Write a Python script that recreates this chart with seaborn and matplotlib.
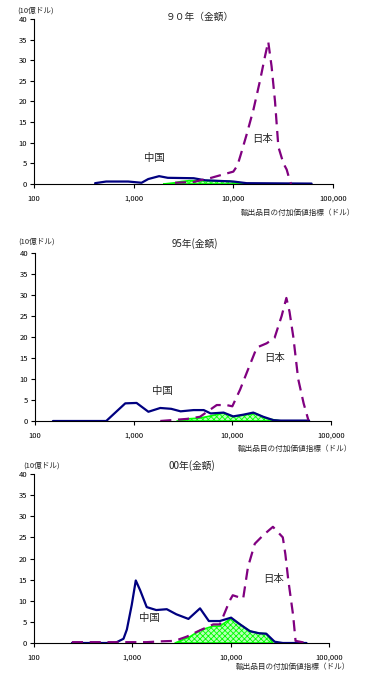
import numpy as np
import pandas as pd
import matplotlib
matplotlib.use("Agg")
import matplotlib.pyplot as plt
import seaborn as sns

# ---- data (x = value-added index in USD, y = 10億ドル) ----
titles = ["９０年（金額）", "95年(金額)", "00年(金額)"]

china90_x = [410, 530, 880, 1200, 1400, 1800, 2200, 4000, 5200, 10000, 13600, 61000]
china90_y = [0.2, 0.6, 0.6, 0.3, 1.2, 1.9, 1.5, 1.4, 0.9, 0.6, 0.2, 0.1]
japan90_x = [2600, 4000, 6000, 7600, 10000, 11000, 12000, 13600, 15900, 18500,
             20800, 22400, 24200, 26200, 28300, 31800, 34300, 36500, 38000]
japan90_y = [0.3, 0.5, 1.5, 2.2, 3.0, 4.5, 7.5, 12, 18, 25,
             31, 34.5, 28.5, 20, 9, 5, 3.5, 1.2, 0]
green90_x = [2000, 2600, 3000, 3600, 6000, 9200, 10000, 14100]
green90_y = [0.0, 0.3, 0.6, 0.8, 0.8, 0.7, 0.5, 0.0]

china95_x = [152, 527, 822, 1070, 1410, 1860, 2400, 2990, 4050, 5130, 6030,
             8150, 10200, 12900, 16300, 20600, 26100, 31000, 60000]
china95_y = [0, 0, 4.2, 4.3, 2.2, 3.1, 2.9, 2.3, 2.6, 2.6, 1.8,
             2.0, 1.1, 1.5, 2.0, 1.0, 0.2, 0.1, 0.1]
japan95_x = [1860, 3470, 4700, 6950, 8700, 10000, 12000, 14000, 17700, 22300,
             26800, 31600, 35300, 38000, 41500, 46500, 52800, 59000]
japan95_y = [0, 0.5, 1.0, 3.8, 3.8, 3.5, 7.5, 11.5, 17.5, 18.5,
             19.8, 25, 29.3, 26, 20, 10, 4.2, 0.2]
green95_x = [2750, 3470, 4700, 6000, 8150, 10200, 12900, 17200, 22000, 31000]
green95_y = [0, 0.5, 0.7, 1.2, 1.9, 1.0, 1.4, 1.8, 0.6, 0]

china00_x = [243, 668, 813, 880, 986, 1084, 1200, 1400, 1750, 2240, 2800,
             3720, 4880, 6000, 7770, 10100, 12300, 15700, 19500, 23000, 28000, 33900, 59000]
china00_y = [0, 0, 1.0, 3.2, 9, 14.8, 12.5, 8.5, 7.8, 8.0, 6.8,
             5.7, 8.2, 5.2, 5.2, 6.0, 4.5, 2.8, 2.3, 2.2, 0.3, 0, 0]
japan00_x = [243, 1400, 2000, 2700, 3570, 4880, 6640, 7770, 9770, 10500, 13400,
             15000, 17600, 21400, 26900, 33900, 36000, 38500, 43200, 45700, 59000]
japan00_y = [0.2, 0.2, 0.4, 0.5, 1.5, 3.0, 4.4, 4.4, 10, 11.3, 10.5,
             18, 23.5, 25.5, 27.5, 25, 21, 15, 6.5, 0.5, 0]
green00_x = [2720, 3860, 4880, 6640, 7770, 10100, 12300, 15700, 19500, 23000, 26900]
green00_y = [0, 1.5, 3.0, 4.0, 4.0, 5.8, 4.5, 2.8, 2.3, 2.2, 0]

x_ticks = [100, 1000, 10000, 100000]
x_ticklabels = ["100", "1,000", "10,000", "100,000"]
y_ticks = [0, 5, 10, 15, 20, 25, 30, 35, 40]

sns.set_style("white")
plt.rcParams['font.family'] = ['Noto Sans CJK JP', 'DejaVu Sans']
plt.rcParams['hatch.color'] = '#00dd00'
plt.rcParams['hatch.linewidth'] = 0.6

W, H = 389, 680
fig = plt.figure(figsize=(W / 100, H / 100), dpi=100)

def px(x0, y0, x1, y1):
    # pixel box -> figure fraction [left, bottom, width, height]
    return [x0 / W, 1 - y1 / H, (x1 - x0) / W, (y1 - y0) / H]

panels = [
    dict(box=(34, 19, 333, 184), cx=china90_x, cy=china90_y, jx=japan90_x, jy=japan90_y,
         gx=green90_x, gy=green90_y, title=(200, 17), ylab=(17, 11), xlab=(355, 213),
         cn=(154, 158), jp=(263, 139)),
    dict(box=(35, 253, 331, 421), cx=china95_x, cy=china95_y, jx=japan95_x, jy=japan95_y,
         gx=green95_x, gy=green95_y, title=(195, 244), ylab=(18, 242), xlab=(352, 449),
         cn=(162, 391), jp=(275, 358)),
    dict(box=(34, 474, 329, 643), cx=china00_x, cy=china00_y, jx=japan00_x, jy=japan00_y,
         gx=green00_x, gy=green00_y, title=(192, 466), ylab=(23, 466), xlab=(350, 667),
         cn=(149, 618), jp=(274, 579)),
]

for p, title in zip(panels, titles):
    ax = fig.add_axes(px(*p['box']))
    ax.fill_between(p['gx'], p['gy'], 0, facecolor='#b8ffb8', edgecolor='#00ff00',
                    hatch='xxxxxx', linewidth=1.2, zorder=1)
    jdf = pd.DataFrame({'x': p['jx'], 'y': p['jy']})
    cdf = pd.DataFrame({'x': p['cx'], 'y': p['cy']})
    sns.lineplot(data=cdf, x='x', y='y', ax=ax, color='#000080', linewidth=1.6,
                 sort=False, zorder=2)
    sns.lineplot(data=jdf, x='x', y='y', ax=ax, color='#800080', linewidth=1.6,
                 sort=False, zorder=3)
    ax.lines[-1].set_dashes((5, 3))
    ax.set_xscale('log')
    ax.set_xlim(100, 100000)
    ax.set_ylim(0, 40)
    ax.set_xticks(x_ticks)
    ax.set_xticklabels(x_ticklabels)
    ax.minorticks_off()
    ax.set_yticks(y_ticks)
    ax.set_xlabel('')
    ax.set_ylabel('')
    ax.tick_params(axis='both', labelsize=5.5, length=3, width=0.8, direction='out',
                   colors='black', left=True, bottom=True, pad=2)
    ax.tick_params(axis='x', pad=5)
    for s in ['top', 'right']:
        ax.spines[s].set_visible(False)
    for s in ['left', 'bottom']:
        ax.spines[s].set_color('black')
        ax.spines[s].set_linewidth(0.8)
        ax.spines[s].set_zorder(5)
    ax.set_facecolor('white')

    fig.text(p['title'][0] / W, 1 - p['title'][1] / H, title, ha='center', va='center', fontsize=7)
    fig.text(p['ylab'][0] / W, 1 - p['ylab'][1] / H, '(10億ドル)', ha='left', va='center', fontsize=5.5)
    fig.text(p['xlab'][0] / W, 1 - p['xlab'][1] / H, '輸出品目の付加価値指標（ドル）',
             ha='right', va='center', fontsize=5.5)
    fig.text(p['cn'][0] / W, 1 - p['cn'][1] / H, '中国', ha='center', va='center', fontsize=7.5)
    fig.text(p['jp'][0] / W, 1 - p['jp'][1] / H, '日本', ha='center', va='center', fontsize=7.5)

fig.savefig('out.png', dpi=100, facecolor='white')
